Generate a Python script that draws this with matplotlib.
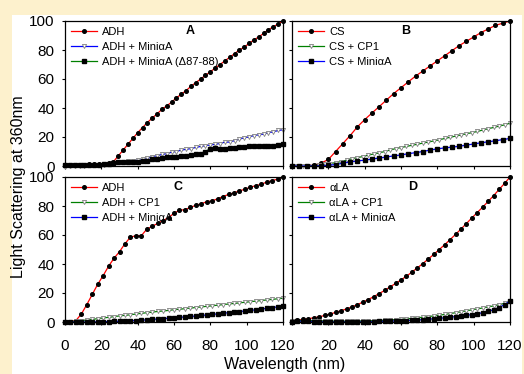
import numpy as np
import matplotlib
matplotlib.use('Agg')
import matplotlib.pyplot as plt
from matplotlib.patches import Rectangle

plt.rcParams['font.family'] = ['Liberation Sans', 'DejaVu Sans']

# x grids (nm)
x_a = np.linspace(0, 120, 46)
x3 = np.arange(0, 121, 3)
x4 = np.arange(0, 121, 4)

# Panel A
a_adh = [0.5, 0.6, 0.8, 1, 1, 1.2, 1.3, 1.5, 1.7, 2, 3, 7, 11, 15, 19, 23,
         26.5, 30, 33, 36, 39, 41.5, 44, 47, 49.5, 52, 55, 57.5, 60, 62.5, 65,
         67.5, 70, 72.5, 75, 77.5, 80, 82, 84.5, 87, 89, 91.5, 94, 96, 98, 100]
a_mini = [-0.5, -0.3, -0.2, 0, 0.2, 0.4, 0.6, 0.8, 1, 1.3, 2, 2.5, 3, 3.3, 3.6,
          4, 4.5, 5.2, 6.5, 7, 8, 8.5, 9.5, 10, 11, 11.5, 12, 12.8, 13.5, 14,
          14.5, 15, 15.5, 16.5, 16.5, 17.5, 18.5, 19.5, 20, 21, 21.5, 22, 23,
          23.5, 24.5, 25]
a_del = [0.5, 0.6, 0.7, 0.8, 0.9, 1, 1, 1, 1.2, 1.5, 2, 2.5, 2.8, 3, 2.5, 3,
         3.5, 3.5, 4.5, 5, 5.5, 6, 6, 6.5, 7, 7, 7.5, 8, 8.5, 10, 12, 12.5, 12,
         12, 12.3, 12.5, 13, 13.3, 13.5, 13.5, 14, 14, 13.5, 14, 14.5, 15]

# Panel B
b_cs = [0, 0, 0.2, 0.5, 2, 4.5, 10, 15.5, 21, 27, 32, 36.5, 41, 45.5, 50, 54,
        58, 62, 65.5, 69, 72.5, 76, 79.5, 83, 86, 89, 92, 94.5, 97, 98.5, 100]
b_cp1 = [0, 0, 0, 0, 0.3, 0.7, 1.2, 1.7, 2.3, 3, 4, 5, 5.8, 6.5, 7.5, 8.3, 9,
         10, 11, 12, 12.7, 13.5, 14.3, 15, 15.8, 16.5, 17.3, 18, 19, 19.8, 20.6,
         21.4, 22.2, 23, 23.8, 24.8, 25.7, 26.6, 27.5, 28.4, 29.5]
b_mini = [0, 0, 0, 0, 0.2, 0.5, 1, 2, 2.8, 3.5, 4, 4.8, 5.5, 6.2, 7, 7.6, 8.5,
          9.2, 10, 11, 11.8, 12.5, 13, 13.6, 14.4, 15.2, 16, 16.7, 17.4, 18.2, 19]

# Panel C
c_adh = [0, 0.3, 1, 5.5, 12, 19, 26, 32, 38.5, 44, 48.5, 54, 58.5, 59.5, 59.5,
         64, 66, 68, 70, 72, 75, 77, 77.5, 79, 80.5, 81.5, 83, 83.5, 85, 86.5,
         88, 89, 90.5, 91.5, 93, 94, 95, 96.5, 97.5, 98.5, 100]
c_cp1 = [0, 0.3, 0.6, 1, 1.4, 1.8, 2.3, 2.8, 3.2, 3.7, 4.2, 4.6, 5, 5.5, 6,
         6.4, 6.8, 7.3, 7.6, 8, 8.5, 8.8, 9.2, 9.6, 10, 10.4, 10.8, 11.2, 11.6,
         12, 12.4, 12.8, 13.2, 13.6, 14, 14.4, 14.8, 15.2, 15.6, 16, 16.4]
c_mini = [0, 0, 0, 0, 0, 0, 0.1, 0.2, 0.3, 0.4, 0.5, 0.6, 0.8, 1, 1.2, 1.5,
          1.8, 2, 2.3, 2.6, 2.9, 3.2, 3.5, 3.8, 4.1, 4.5, 4.8, 5.2, 5.6, 6,
          6.4, 6.8, 7.2, 7.6, 8, 8.4, 8.9, 9.4, 9.9, 10.4, 10.9]

# Panel D
d_la = [1, 1.3, 1.8, 2.3, 2.9, 3.6, 4.5, 5.5, 6.6, 7.8, 9, 10.4, 12, 13.7,
        15.5, 17.5, 19.6, 21.8, 24.2, 26.6, 29, 31.6, 34.4, 37.3, 40.3, 43.4,
        46.6, 49.9, 53.3, 56.8, 60.4, 64.1, 67.9, 71.8, 75.5, 79.3, 83.2, 87.2,
        91.4, 95.6, 100]
d_cp1 = [1, 1, 1, 1, 0.9, 0.8, 0.7, 0.6, 0.5, 0.5, 0.5, 0.5, 0.6, 0.7, 0.8,
         0.9, 1, 1.2, 1.4, 1.6, 1.9, 2.2, 2.5, 2.9, 3.3, 3.7, 4.2, 4.7, 5.2,
         5.8, 6.4, 7, 7.7, 8.4, 9, 9.7, 10.4, 11.1, 11.9, 12.9, 14.2]
d_mini = [0.2, 0.5, 0.6, 0.5, 0.3, 0.2, 0.1, 0, 0, 0, 0, 0, 0, 0.1, 0.2, 0.3,
          0.4, 0.5, 0.6, 0.7, 0.8, 1, 1.2, 1.4, 1.6, 1.9, 2.2, 2.5, 2.9, 3.3,
          3.7, 4.1, 4.6, 5.1, 5.7, 6.4, 7.3, 8.5, 10, 12, 14.3]

dot = dict(marker='o', mfc='black', mec='black', ms=2.6)
tri = dict(marker='v', mfc='white', mec='gray', ms=3.0, mew=0.6)
sq = dict(marker='s', mfc='black', mec='black', ms=2.3)

panels = [
    ('A', [(x_a, a_adh, 'red', dot, 'ADH'),
           (x_a, a_mini, 'blue', tri, 'ADH + Mini\u03b1A'),
           (x_a, a_del, 'green', sq, 'ADH + Mini\u03b1A (\u039487-88)')], 0.575),
    ('B', [(x4, b_cs, 'red', dot, 'CS'),
           (x3, b_cp1, 'green', tri, 'CS + CP1'),
           (x4, b_mini, 'blue', sq, 'CS + Mini\u03b1A')], 0.52),
    ('C', [(x3, c_adh, 'red', dot, 'ADH'),
           (x3, c_cp1, 'green', tri, 'ADH + CP1'),
           (x3, c_mini, 'blue', sq, 'ADH + Mini\u03b1A')], 0.52),
    ('D', [(x3, d_la, 'red', dot, '\u03b1LA'),
           (x3, d_cp1, 'green', tri, '\u03b1LA + CP1'),
           (x3, d_mini, 'blue', sq, '\u03b1LA + Mini\u03b1A')], 0.555),
]

fig = plt.figure(figsize=(5.24, 3.74), dpi=100)
fig.patch.set_facecolor('#fdf1cd')
fig.patches.append(Rectangle((12 / 524, 0), 510 / 524, 1 - 15 / 374,
                             transform=fig.transFigure, facecolor='white',
                             edgecolor='none', zorder=-5))

W, H = 218 / 524, 145 / 374
boxes = [(65 / 524, 208 / 374), (292 / 524, 208 / 374),
         (65 / 524, 52 / 374), (292 / 524, 52 / 374)]

for i, (letter, series, lx) in enumerate(panels):
    ax = fig.add_axes([boxes[i][0], boxes[i][1], W, H])
    ax.set_facecolor('none')
    for x, y, col, mk, lab in series:
        ax.plot(x, y, color=col, lw=0.9, label=lab, clip_on=False, **mk)
    ax.set_xlim(0, 120)
    ax.set_ylim(0, 100)
    ax.set_xticks(range(0, 121, 20))
    ax.set_yticks(range(0, 101, 20))
    ax.tick_params(direction='out', length=2.5, width=0.8, labelsize=11)
    ax.tick_params(axis='y', pad=5)
    ax.tick_params(axis='x', pad=10)
    if i < 2:
        ax.set_xticklabels([])
    if i % 2 == 1:
        ax.set_yticklabels([])
    if i == 3:
        ax.set_xticklabels([''] + [str(v) for v in range(20, 121, 20)])
    for s in ax.spines.values():
        s.set_linewidth(0.9)
    ax.text(lx, 0.93, letter, transform=ax.transAxes, fontsize=9,
            fontweight='bold', ha='center', va='center')
    ax.legend(loc='upper left', frameon=False, fontsize=8, handlelength=2.3,
              handletextpad=0.5, labelspacing=0.45, borderaxespad=0.35,
              borderpad=0.2)

fig.text(19 / 524, 0.5, 'Light Scattering at 360nm', rotation=90,
         fontsize=11.5, ha='center', va='center')
fig.text(285 / 524, 1 - 364 / 374, 'Wavelength (nm)', fontsize=11.5,
         ha='center', va='center')

plt.savefig('out.png', dpi=100, facecolor=fig.get_facecolor())
